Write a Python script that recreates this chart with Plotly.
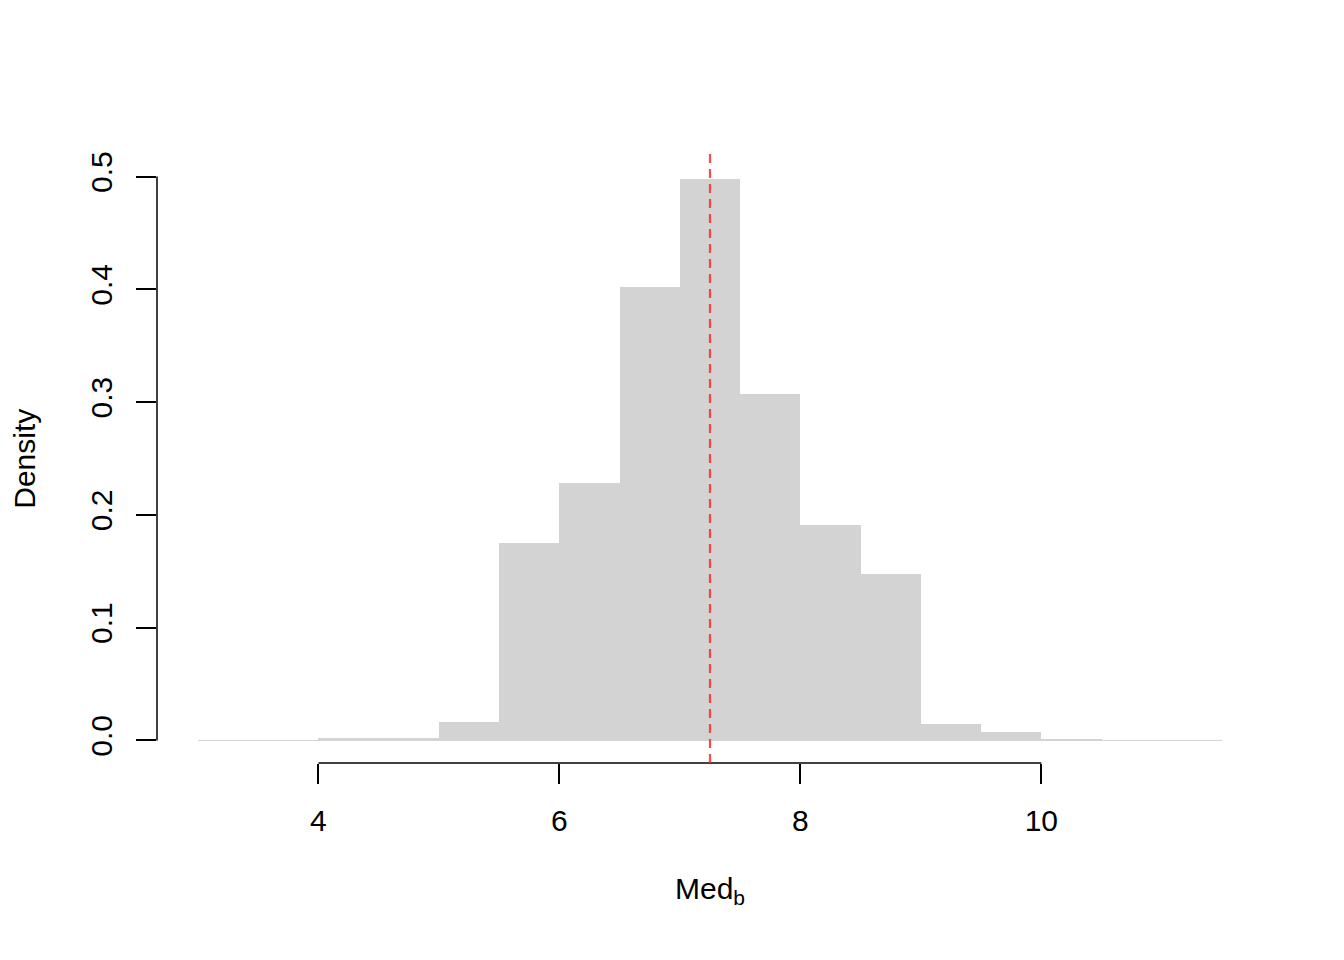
import plotly.graph_objects as go

# histogram of Med_b (density scale, bins of width 0.5)
bin_lo = [3.0, 3.5, 4.0, 4.5, 5.0, 5.5, 6.0, 6.5, 7.0, 7.5, 8.0, 8.5, 9.0, 9.5, 10.0, 10.5, 11.0]
density = [0.0, 0.0, 0.0018, 0.0018, 0.0164, 0.1755, 0.228, 0.4023, 0.4978, 0.3076,
           0.1906, 0.148, 0.0149, 0.0078, 0.0013, 0.0, 0.0]
bin_width = 0.5
med_obs = 7.25

x_ticks = [4, 6, 8, 10]
y_ticks = [0.0, 0.1, 0.2, 0.3, 0.4, 0.5]
y_ticktext = ["0.0", "0.1", "0.2", "0.3", "0.4", "0.5"]

centers = [b + bin_width / 2 for b in bin_lo]
x_lo, x_hi = bin_lo[0], bin_lo[-1] + bin_width
pad_x = (x_hi - x_lo) * 0.04
y_top = max(y_ticks)
pad_y = y_top * 0.04

font = dict(family="Liberation Sans, Arial, sans-serif", size=30, color="black")

fig = go.Figure()
fig.add_trace(go.Bar(x=centers, y=density, width=bin_width,
                     marker=dict(color="#d3d3d3", line=dict(width=0)),
                     hoverinfo="x+y"))

shapes = [
    # thin baseline under the bars (zero height bins)
    dict(type="line", xref="x", yref="y", x0=x_lo, x1=x_hi, y0=0, y1=0,
         line=dict(color="#d3d3d3", width=1), layer="below"),
    # R style detached axis lines
    dict(type="line", xref="x", yref="paper", x0=x_ticks[0], x1=x_ticks[-1], y0=0, y1=0,
         line=dict(color="black", width=1.5)),
    dict(type="line", xref="paper", yref="y", x0=0, x1=0, y0=y_ticks[0], y1=y_ticks[-1],
         line=dict(color="black", width=1.5)),
    # observed median
    dict(type="line", xref="x", yref="y", x0=med_obs, x1=med_obs,
         y0=-pad_y, y1=y_top + pad_y,
         line=dict(color="rgba(255,40,40,0.85)", width=2.2, dash="9px,6px"), layer="above"),
]

# page body adds an 8px offset, so margins are trimmed by that much
fig.update_layout(
    width=1344, height=960,
    margin=dict(l=149, r=89, t=146, b=205),
    paper_bgcolor="white", plot_bgcolor="white",
    font=font, showlegend=False, bargap=0,
    shapes=shapes,
    xaxis=dict(range=[x_lo - pad_x, x_hi + pad_x], tickvals=x_ticks,
               ticks="outside", ticklen=20, tickwidth=1.5, tickcolor="black",
               showline=False, showgrid=False, zeroline=False,
               ticklabelstandoff=11, tickfont=font),
    yaxis=dict(range=[-pad_y, y_top + pad_y], tickvals=y_ticks, ticktext=y_ticktext,
               ticks="outside", ticklen=20, tickwidth=1.5, tickcolor="black",
               tickangle=-90, showline=False, showgrid=False, zeroline=False,
               ticklabelstandoff=12, tickfont=font),
    annotations=[
        dict(text="Med<sub>b</sub>", xref="paper", yref="paper", x=0.5, y=-0.21,
             xanchor="center", yanchor="middle", showarrow=False, font=font),
        dict(text="Density", xref="paper", yref="paper", x=-0.12, y=0.5,
             xanchor="center", yanchor="middle", textangle=-90, showarrow=False, font=font),
    ],
)

fig.write_html("out.html")
